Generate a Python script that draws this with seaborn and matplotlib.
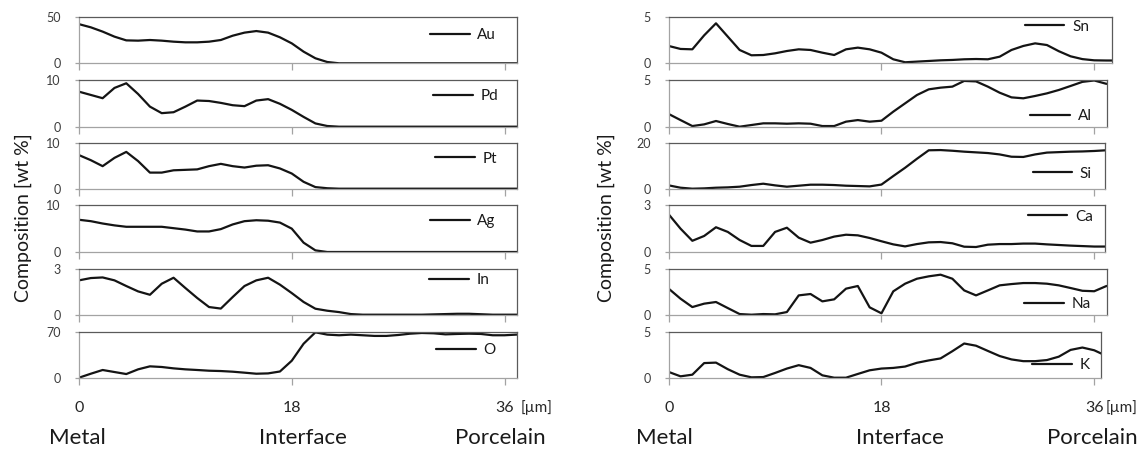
import matplotlib
matplotlib.use("Agg")
import matplotlib.pyplot as plt
import seaborn as sns

# ---------------- data ----------------
x_um = list(range(39))  # 0 .. 38 µm

au = [42, 38.6, 34, 28.6, 24.6, 24.3, 25, 24.3, 23.2, 22.5,
      22.5, 23.2, 25, 29.6, 32.9, 34.6, 32.9, 27.9, 21.4, 12.5,
      5.4, 1.4, 0, 0, 0, 0, 0, 0, 0, 0,
      0, 0, 0, 0, 0, 0, 0, 0, 0]
pd_ = [7.5, 6.8, 6.1, 8.3, 9.3, 7.0, 4.3, 2.9, 3.1, 4.3,
       5.6, 5.5, 5.1, 4.6, 4.4, 5.6, 5.9, 4.9, 3.6, 2.1,
       0.7, 0.15, 0, 0, 0, 0, 0, 0, 0, 0,
       0, 0, 0, 0, 0, 0, 0, 0, 0]
pt = [7.3, 6.2, 4.9, 6.7, 8.0, 6.0, 3.5, 3.5, 4.0, 4.1,
      4.2, 4.9, 5.4, 4.9, 4.6, 5.0, 5.1, 4.4, 3.3, 1.5,
      0.35, 0.1, 0, 0, 0, 0, 0, 0, 0, 0,
      0, 0, 0, 0, 0, 0, 0, 0, 0]
ag = [6.9, 6.6, 6.1, 5.7, 5.4, 5.4, 5.4, 5.4, 5.1, 4.8,
      4.4, 4.4, 4.9, 5.9, 6.6, 6.8, 6.7, 6.3, 5.0, 2.0,
      0.35, 0, 0, 0, 0, 0, 0, 0, 0, 0,
      0, 0, 0, 0, 0, 0, 0, 0, 0]
in_ = [2.24, 2.39, 2.43, 2.24, 1.87, 1.52, 1.30, 2.02, 2.41, 1.74,
       1.09, 0.5, 0.4, 1.15, 1.87, 2.24, 2.41, 1.96, 1.41, 0.83,
       0.39, 0.26, 0.17, 0.04, 0, 0, 0, 0, 0, 0,
       0.02, 0.04, 0.06, 0.06, 0.03, 0, 0, 0, 0]
o = [0, 6.1, 11.8, 8.7, 5.6, 12.8, 17.4, 16.4, 14.3, 12.8,
     11.8, 10.7, 10.2, 9.2, 7.7, 6.1, 6.6, 9.5, 26, 52,
     69.5, 66, 65, 66, 65, 64, 64, 65.4, 67.4, 68.5,
     68, 66.4, 67, 67.4, 67, 65, 65, 66, 66]

sn = [1.86, 1.54, 1.5, 3.0, 4.29, 2.86, 1.43, 0.86, 0.89, 1.07,
      1.32, 1.5, 1.43, 1.14, 0.89, 1.5, 1.68, 1.5, 1.14, 0.43,
      0.11, 0.18, 0.25, 0.32, 0.36, 0.43, 0.46, 0.43, 0.71, 1.43,
      1.86, 2.14, 1.96, 1.3, 0.75, 0.45, 0.32, 0.3, 0.3]
al = [1.36, 0.71, 0.07, 0.25, 0.61, 0.29, 0, 0.18, 0.36, 0.36,
      0.32, 0.36, 0.32, 0.07, 0.07, 0.54, 0.71, 0.54, 0.64, 1.61,
      2.5, 3.39, 4.0, 4.18, 4.29, 4.9, 4.85, 4.29, 3.64, 3.14,
      3.04, 3.29, 3.57, 3.93, 4.36, 4.8, 4.95, 4.6, 4.5]
si = [1.45, 0.43, 0, 0.14, 0.43, 0.58, 0.87, 1.59, 2.17, 1.45,
      0.87, 1.3, 1.74, 1.74, 1.59, 1.3, 1.16, 1.01, 1.8, 5.5,
      9.1, 13.0, 16.7, 16.8, 16.5, 16.1, 15.8, 15.5, 14.9, 13.9,
      13.8, 14.9, 15.7, 15.9, 16.1, 16.2, 16.4, 16.7, 17.0]
ca = [2.42, 1.5, 0.72, 1.03, 1.59, 1.29, 0.77, 0.39, 0.39, 1.29,
      1.56, 0.92, 0.6, 0.77, 0.99, 1.11, 1.07, 0.9, 0.69, 0.49,
      0.36, 0.51, 0.62, 0.64, 0.56, 0.34, 0.32, 0.47, 0.51, 0.51,
      0.54, 0.54, 0.49, 0.45, 0.41, 0.38, 0.35, 0.35, 0.35]
na = [2.83, 1.74, 0.83, 1.2, 1.38, 0.72, 0.07, 0, 0.07, 0.04,
      0.29, 2.1, 2.25, 1.45, 1.67, 2.83, 3.12, 0.8, 0.15, 2.54,
      3.37, 3.91, 4.17, 4.35, 3.91, 2.64, 2.1, 2.64, 3.19, 3.33,
      3.44, 3.44, 3.37, 3.19, 2.9, 2.6, 2.55, 3.1, 3.4]
k = [0.63, 0.15, 0.33, 1.6, 1.65, 0.93, 0.33, 0.04, 0.07, 0.52,
     1.0, 1.37, 1.07, 0.26, 0, 0, 0.41, 0.81, 1.0, 1.07,
     1.22, 1.63, 1.89, 2.11, 2.9, 3.74, 3.5, 2.93, 2.37, 2.0,
     1.81, 1.81, 1.93, 2.3, 3.04, 3.3, 3.0, 2.4, 2.2]

left_names = ["Au", "Pd", "Pt", "Ag", "In", "O"]
left_values = [au, pd_, pt, ag, in_, o]
left_ymax = [50, 10, 10, 10, 3, 70]
right_names = ["Sn", "Al", "Si", "Ca", "Na", "K"]
right_values = [sn, al, si, ca, na, k]
right_ymax = [5, 5, 20, 3, 5, 5]
x_ticks = [0, 18, 36]
x_tick_labels = ["0", "18", "36"]
region_labels = ["Metal", "Interface", "Porcelain"]
y_label = "Composition [wt %]"
unit_label = "[µm]"

# ---------------- style ----------------
sns.set_style("white")
plt.rcParams["font.family"] = ["Lato", "DejaVu Sans"]

W, H = 1141, 450
fig = plt.figure(figsize=(W / 100, H / 100), dpi=100)

tops = [16.7, 80, 142.7, 205.3, 268.7, 332]
bots = [63.3, 126.7, 188.7, 252, 314.7, 377.7]
PXUM = 11.82
col_x0 = [79, 668.7]
col_x1 = [[517] * 6, [1112, 1107, 1105, 1105, 1107, 1101]]
leg_pos = [
    [(0.801, 0.607), (0.808, 0.659), (0.813, 0.652), (0.801, 0.664), (0.799, 0.754), (0.815, 0.606)],
    [(0.803, 0.785), (0.825, 0.23), (0.834, 0.326), (0.823, 0.756), (0.811, 0.233), (0.841, 0.278)],
]
LINE = "#141414"
DARK = "#5a5a5a"
LIGHT = "#a3a3a3"

columns = [(left_names, left_values, left_ymax), (right_names, right_values, right_ymax)]

for c, (names, values, ymaxes) in enumerate(columns):
    for i, (name, vals, ymax) in enumerate(zip(names, values, ymaxes)):
        l = col_x0[c]
        r = col_x1[c][i]
        t, b = tops[i], bots[i]
        ax = fig.add_axes([l / W, 1 - b / H, (r - l) / W, (b - t) / H])
        sns.lineplot(x=x_um, y=vals, ax=ax, color=LINE, lw=1.6, label=name,
                     sort=False, estimator=None, solid_joinstyle="round",
                     solid_capstyle="round")
        ax.set_xlim(0, (r - l) / PXUM)
        ax.set_ylim(0, ymax)
        ax.set_yticks([0, ymax])
        ax.set_yticklabels(["0", str(ymax)], fontsize=9, color="#3c3c3c")
        ax.set_xticks(x_ticks)
        if i == 5:
            ax.set_xticklabels(x_tick_labels, fontsize=11.5, color="#262626")
        else:
            ax.set_xticklabels([])
        ax.tick_params(axis="x", direction="out", length=5, width=0.9,
                       color=LIGHT, pad=12, bottom=True)
        ax.tick_params(axis="y", direction="out", length=3, width=0.9,
                       color=LIGHT, pad=10, left=True)
        ax.set_xlabel("")
        ax.set_ylabel("")
        for s in ["top", "right"]:
            ax.spines[s].set_color(DARK)
            ax.spines[s].set_linewidth(0.9)
        for s in ["left", "bottom"]:
            ax.spines[s].set_color(LIGHT)
            ax.spines[s].set_linewidth(0.9)
        lx, ly = leg_pos[c][i]
        ax.legend(loc="center left", bbox_to_anchor=(lx, ly), frameon=False,
                  fontsize=11, handlelength=2.6, handletextpad=0.5,
                  borderpad=0, borderaxespad=0, labelcolor="#1a1a1a")

# y axis titles
for xc in [23, 606]:
    fig.text(xc / W, 1 - 217.5 / H, y_label, rotation=90, ha="center",
             va="center", fontsize=14, color="#1a1a1a")

# unit labels
for xs in [521, 1106]:
    fig.text(xs / W, 1 - 408 / H, unit_label, ha="left", va="center",
             fontsize=11, color="#262626")

# region labels
for xs in [[77, 303, 500], [664, 900, 1092]]:
    for xc, lab in zip(xs, region_labels):
        fig.text(xc / W, 1 - 438 / H, lab, ha="center", va="center",
                 fontsize=16, color="#1a1a1a")

fig.savefig("out.png", dpi=100)
